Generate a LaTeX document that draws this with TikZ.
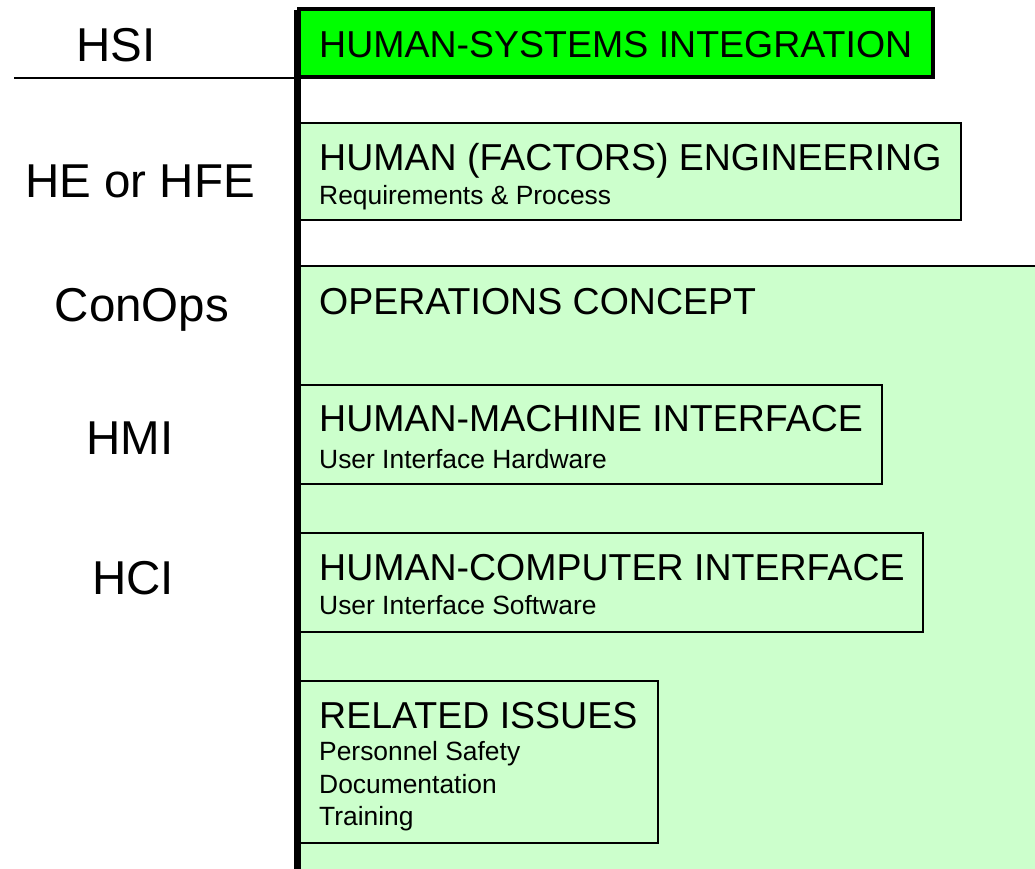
\documentclass[tikz,border=0pt]{standalone}
\usepackage{fontspec}
\setmainfont{Liberation Sans}
\definecolor{lgreen}{HTML}{CCFFCC}
\definecolor{bgreen}{HTML}{00FF00}
\begin{document}
\begin{tikzpicture}[x=1pt,y=-1pt,
 title/.style={anchor=base west, inner sep=0pt, font=\fontsize{37.5}{44}\selectfont},
 sub/.style={anchor=base west, inner sep=0pt, font=\fontsize{26.4}{32}\selectfont},
 lbl/.style={anchor=base, inner sep=0pt, font=\fontsize{47.5}{56}\selectfont},
 box/.style={draw=black, line width=2pt, fill=lgreen},
 hsibox/.style={draw=black, line width=4pt, fill=bgreen}]
\useasboundingbox (0,0) rectangle (1035,868);
\fill[white] (0,0) rectangle (1035,868);
% operations concept background
\fill[lgreen] (300,266) rectangle (1040,875);
\draw[line width=2pt] (300,266) -- (1040,266);
% boxes
\draw[hsibox] (299,9) rectangle (933,77);
\draw[box] (300,123) rectangle (961,220);
\draw[box] (300,385) rectangle (882,484);
\draw[box] (300,533) rectangle (923,632);
\draw[box] (300,681) rectangle (658,843);
% left rule and vertical bar
\coordinate (hl) at (14,78);
\coordinate (hr) at (297,78);
\draw[line width=2pt] (hl) -- (hr);
\coordinate (vt) at (297,10);
\coordinate (vb) at (297,870);
\draw[line width=7pt] (vt) -- (vb);
% texts in boxes
\node[title] (t1) at (319,57) {HUMAN-SYSTEMS INTEGRATION};
\node[title] (t2) at (319,170) {HUMAN (FACTORS) ENGINEERING};
\node[sub] (s2) at (319,204) {Requirements \& Process};
\node[title] (t3) at (319,314) {OPERATIONS CONCEPT};
\node[title] (t4) at (319,431) {HUMAN-MACHINE INTERFACE};
\node[sub] (s4) at (319,468) {User Interface Hardware};
\node[title] (t5) at (319,580) {HUMAN-COMPUTER INTERFACE};
\node[sub] (s5) at (319,614) {User Interface Software};
\node[title] (t6) at (319,728) {RELATED ISSUES};
\node[sub] (s6a) at (319,760) {Personnel Safety};
\node[sub] (s6b) at (319,793) {Documentation};
\node[sub] (s6c) at (319,825) {Training};
% left labels
\node[lbl] (l1) at (116,61) {HSI};
\node[lbl] (l2) at (140,197) {HE or HFE};
\node[lbl] (l3) at (142,321) {ConOps};
\node[lbl] (l4) at (130,454) {HMI};
\node[lbl] (l5) at (133,594) {HCI};
\end{tikzpicture}
\end{document}
